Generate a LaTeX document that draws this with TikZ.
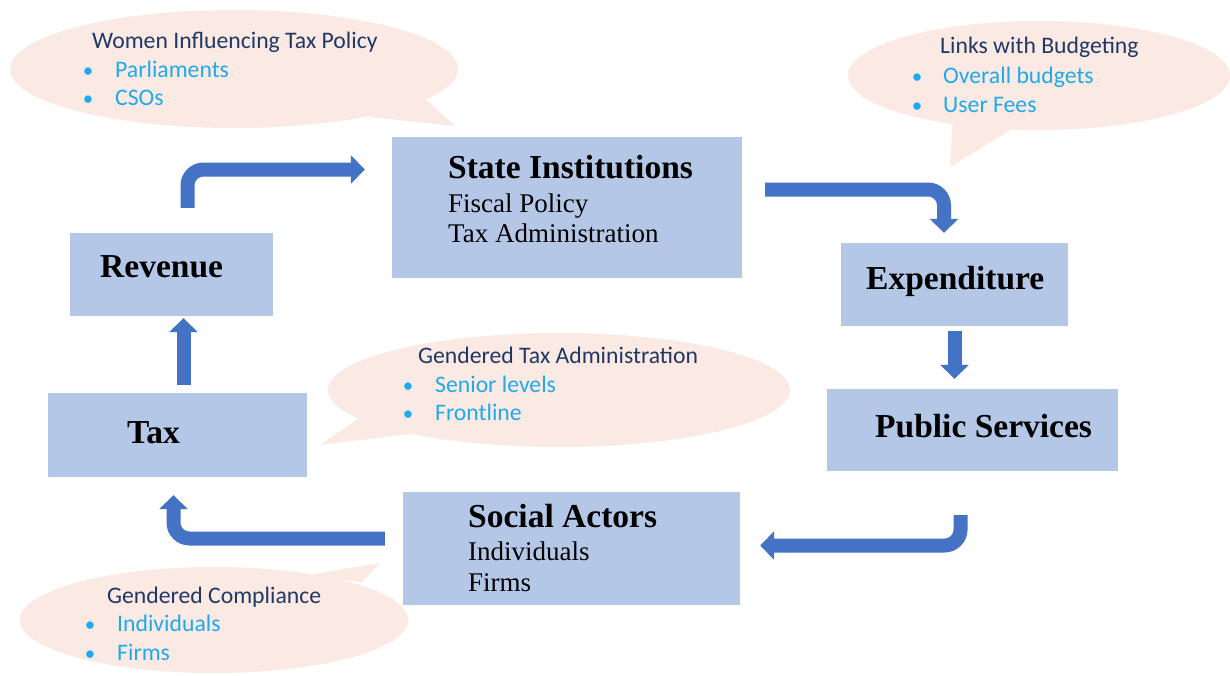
\documentclass[tikz,border=0pt]{standalone}
\usepackage{fontspec}
\setmainfont{Liberation Serif}
\newfontfamily\bubblefont{Carlito}
\usetikzlibrary{arrows.meta,shapes.geometric,calc}

\definecolor{boxblue}{HTML}{B4C7E7}
\definecolor{arrowblue}{HTML}{4472C4}
\definecolor{bubblepink}{HTML}{FBE9E4}
\definecolor{bubbletitle}{HTML}{203864}
\definecolor{bubbleitem}{RGB}{30,170,235}

\tikzset{
  blockbox/.style={rectangle, fill=boxblue, inner sep=0pt},
  headtext/.style={anchor=base west, inner sep=0pt, font=\fontsize{33.5}{38}\selectfont\bfseries},
  subtext/.style={anchor=base west, inner sep=0pt, font=\fontsize{27}{31}\selectfont},
  bubble/.style={ellipse, fill=bubblepink, inner sep=0pt},
  bubtail/.style={fill=bubblepink},
  bubtitle/.style={anchor=base west, inner sep=0pt, text=bubbletitle, font=\bubblefont\fontsize{23.7}{28}\selectfont},
  bubitem/.style={bubtitle, text=bubbleitem},
  bubdot/.style={anchor=base, inner sep=0pt, text=bubbleitem, font=\bubblefont\fontsize{21}{28}\selectfont},
  flowarrow/.style={draw=arrowblue, line width=14pt, rounded corners=16pt, -{Triangle[width=28pt,length=14pt]}}
}

\begin{document}
\begin{tikzpicture}[x=1pt,y=-1pt]
\useasboundingbox (0,0) rectangle (1230,675);

% speech bubbles
\node[bubble, minimum width=448pt, minimum height=118pt] (policybub) at (234,69) {};
\coordinate (policytip) at (455,126);
\fill[bubtail] (370,117) -- (policytip) -- (424,98) -- cycle;

\node[bubble, minimum width=382pt, minimum height=109pt] (budgetbub) at (1039,75.5) {};
\coordinate (budgettip) at (950,167);
\fill[bubtail] (953,118) -- (budgettip) -- (1020,124) -- cycle;

\node[bubble, minimum width=462pt, minimum height=114pt] (adminbub) at (559,390) {};
\coordinate (admintip) at (320,445);
\fill[bubtail] (365,414) -- (admintip) -- (425,432) -- cycle;

\node[bubble, minimum width=388pt, minimum height=106pt] (complybub) at (214,620) {};
\coordinate (complytip) at (380,563);
\fill[bubtail] (303,576) -- (complytip) -- (362,582) -- cycle;

% blocks
\node[blockbox, minimum width=350pt, minimum height=141pt] (state) at (567,207.5) {};
\node[blockbox, minimum width=203pt, minimum height=83pt] (revenue) at (171.5,274.5) {};
\node[blockbox, minimum width=227pt, minimum height=83pt] (expend) at (954.5,284.5) {};
\node[blockbox, minimum width=291pt, minimum height=82pt] (public) at (972.5,430) {};
\node[blockbox, minimum width=259pt, minimum height=84pt] (tax) at (177.5,435) {};
\node[blockbox, minimum width=337pt, minimum height=113pt] (social) at (571.5,548.5) {};

% block texts
\node[headtext] (statehead) at (448,178) {State Institutions};
\node[subtext] (statefiscal) at (448,212) {Fiscal Policy};
\node[subtext] (stateadmin) at (448,242) {Tax Administration};
\node[headtext] (revenuehead) at (100,277) {Revenue};
\node[headtext] (expendhead) at (866,289) {Expenditure};
\node[headtext] (publichead) at (875,437) {Public Services};
\node[headtext] (taxhead) at (127,443) {Tax};
\node[headtext] (socialhead) at (468,527) {Social Actors};
\node[subtext] (socialindiv) at (468,560) {Individuals};
\node[subtext] (socialfirms) at (468,591) {Firms};

% bubble texts
\node[bubtitle] (policytitle) at (92,48) {Women Influencing Tax Policy};
\node[bubdot] (policydota) at (88,77) {•};
\node[bubitem] (policyparl) at (115,77) {Parliaments};
\node[bubdot] (policydotb) at (88,105) {•};
\node[bubitem] (policycso) at (115,105) {CSOs};

\node[bubtitle] (budgettitle) at (940,53) {Links with Budgeting};
\node[bubdot] (budgetdota) at (917,83) {•};
\node[bubitem] (budgetall) at (943,83) {Overall budgets};
\node[bubdot] (budgetdotb) at (917,112) {•};
\node[bubitem] (budgetfees) at (943,112) {User Fees};

\node[bubtitle] (admintitle) at (418,363) {Gendered Tax Administration};
\node[bubdot] (admindota) at (408,392) {•};
\node[bubitem] (adminsenior) at (435,392) {Senior levels};
\node[bubdot] (admindotb) at (408,420) {•};
\node[bubitem] (adminfront) at (435,420) {Frontline};

\node[bubtitle] (complytitle) at (107,603) {Gendered Compliance};
\node[bubdot] (complydota) at (90,631) {•};
\node[bubitem] (complyindiv) at (117,631) {Individuals};
\node[bubdot] (complydotb) at (90,660) {•};
\node[bubitem] (complyfirms) at (117,660) {Firms};

% flow arrows round the cycle
\draw[flowarrow] ([xshift=16pt,yshift=25pt]revenue.north) |- ([xshift=-27pt,yshift=38pt]state.west);
\draw[flowarrow] ([xshift=23pt,yshift=18pt]state.east) -| ([xshift=-10.5pt,yshift=10pt]expend.north);
\draw[flowarrow] ([yshift=-5pt]expend.south) -- ([yshift=10pt]expend.south |- public.north);
\draw[flowarrow] ([xshift=-12pt,yshift=-44pt]public.south) |- ([xshift=20pt,yshift=3pt]social.east);
\draw[flowarrow] ([xshift=-18pt,yshift=10pt]social.west) -| ([xshift=-4pt,yshift=-18pt]tax.south);
\draw[flowarrow] ([xshift=6pt,yshift=8pt]tax.north) -- ([xshift=6pt,yshift=-2pt]tax.north |- revenue.south);
\end{tikzpicture}
\end{document}
